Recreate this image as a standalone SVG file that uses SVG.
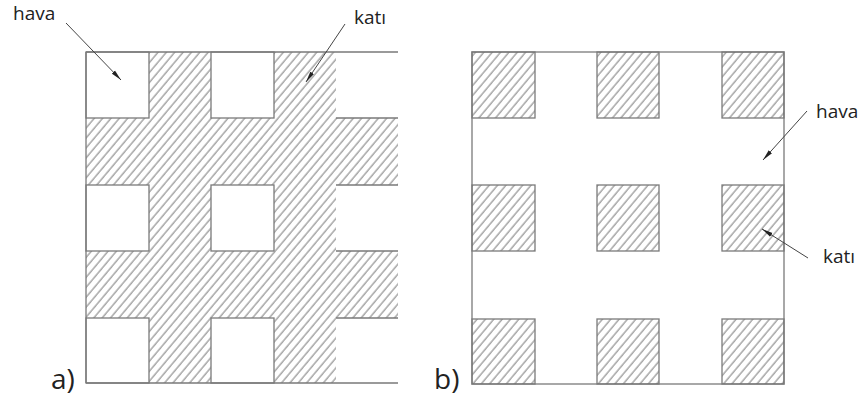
<svg xmlns="http://www.w3.org/2000/svg" width="867" height="396" viewBox="0 0 867 396">
<defs>
<pattern id="hatch" patternUnits="userSpaceOnUse" width="6.4" height="12" patternTransform="rotate(40)">
<line x1="1" y1="-1" x2="1" y2="13" stroke="#505050" stroke-width="0.8"/>
</pattern>
<marker id="ah" markerWidth="12" markerHeight="6" refX="11" refY="3" orient="auto" markerUnits="userSpaceOnUse">
<path d="M0,0.8 L11,3 L0,5.2 Z" fill="#222"/>
</marker>
</defs>
<style>
.edge{stroke:#7a7a7a;stroke-width:1.3;fill:none}
.air{fill:#fff;stroke:#7a7a7a;stroke-width:1.3}
.solid{fill:url(#hatch);stroke:#7a7a7a;stroke-width:1.3}
.lbl{font-family:"Open Sans","Liberation Sans",sans-serif;font-size:19px;fill:#222}
.big{font-family:"Open Sans","Liberation Sans",sans-serif;font-size:28px;fill:#222}
.arr{stroke:#444;stroke-width:1;fill:none;marker-end:url(#ah)}
</style>
<rect width="867" height="396" fill="#fff"/>

<g id="panel-a">
<rect x="86" y="52" width="312" height="331" fill="url(#hatch)"/>
<rect class="air" x="86" y="52" width="63" height="66"/>
<rect class="air" x="211" y="52" width="63" height="66"/>
<rect class="air" x="86" y="185" width="63" height="66"/>
<rect class="air" x="211" y="185" width="63" height="66"/>
<rect class="air" x="86" y="318" width="63" height="65"/>
<rect class="air" x="211" y="318" width="63" height="65"/>
<rect x="336" y="52" width="63" height="66" fill="#fff"/>
<rect x="336" y="185" width="63" height="66" fill="#fff"/>
<rect x="336" y="318" width="63" height="65" fill="#fff"/>
<path class="edge" d="M86,52 H398 M86,383 H398 M86,52 V383 M336,118 H398 M336,185 H398 M336,251 H398 M336,318 H398"/>
</g>

<g id="panel-b">
<rect class="edge" x="472" y="52" width="312" height="332"/>
<rect class="solid" x="472" y="52" width="63" height="66"/>
<rect class="solid" x="597" y="52" width="62" height="66"/>
<rect class="solid" x="722" y="52" width="62" height="66"/>
<rect class="solid" x="472" y="185" width="63" height="66"/>
<rect class="solid" x="597" y="185" width="62" height="66"/>
<rect class="solid" x="722" y="185" width="62" height="66"/>
<rect class="solid" x="472" y="319" width="63" height="65"/>
<rect class="solid" x="597" y="319" width="62" height="65"/>
<rect class="solid" x="722" y="319" width="62" height="65"/>
</g>

<g id="connectors">
<line class="arr" x1="66" y1="23" x2="121" y2="80"/>
<line class="arr" x1="345" y1="24" x2="306" y2="82"/>
<line class="arr" x1="807" y1="111" x2="763" y2="160"/>
<line class="arr" x1="808" y1="258" x2="762" y2="229"/>
</g>

<g id="labels">
<text id="hava-a" class="lbl" x="13" y="20">hava</text>
<text id="kati-a" class="lbl" x="354" y="24">katı</text>
<text id="hava-b" class="lbl" x="816" y="118">hava</text>
<text id="kati-b" class="lbl" x="823" y="263">katı</text>
<text id="lbl-a" class="big" x="51" y="389">a)</text>
<text id="lbl-b" class="big" x="434" y="389">b)</text>
</g>
</svg>
